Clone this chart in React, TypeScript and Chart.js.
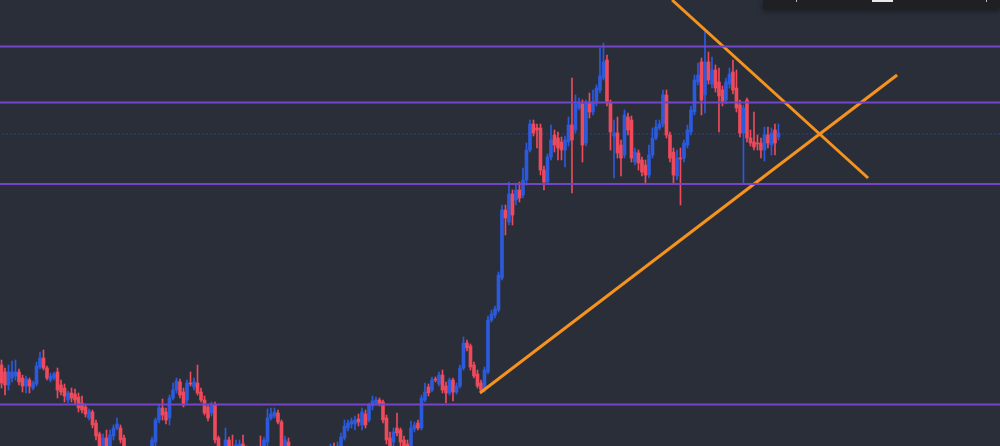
import React, { useEffect, useRef } from "react";
import { Chart, registerables } from "chart.js";

Chart.register(...registerables);

// OHLC price series (one candle per bar)
const opens = [
  135,128,115,122,124,128,122,114,120,112,
  116,133,142,132,120,122,128,115,112,100,
  107,106,103,97,93,82,88,77,66,53,
  62,52,64,72,72,62,50,44,38,42,
  36,40,45,40,58,80,92,88,82,102,
  110,118,108,100,117,113,117,108,100,93,
  87,95,62,48,45,60,52,48,50,56,
  50,42,48,40,52,48,58,82,84,87,
  78,52,58,45,35,42,35,28,34,40,
  34,38,44,38,44,50,45,52,62,72,
  76,76,81,75,86,80,94,97,100,98,
  82,62,58,72,70,60,56,54,71,77,
  72,100,113,110,121,116,125,114,107,120,
  108,114,132,157,154,135,126,117,110,128,
  180,185,190,222,290,278,306,300,310,305,
  320,350,376,372,372,330,318,343,365,362,
  358,350,358,375,370,392,396,357,398,388,
  397,410,422,440,397,364,367,355,345,383,
  380,338,347,340,335,325,345,362,372,376,
  405,365,348,324,342,342,355,368,388,418,
  438,405,438,416,430,418,410,400,416,428,
  412,395,367,400,362,358,357,357,350,365,
  355,370,363,
];
const highs = [
  140,132,135,139,140,131,125,124,122,119,
  138,148,150,134,127,128,132,120,116,109,
  112,111,107,104,96,91,90,80,68,66,
  70,70,75,82,75,65,52,48,45,46,
  44,50,49,63,82,95,101,92,105,117,
  122,121,112,120,128,122,135,112,104,96,
  98,98,64,52,72,63,65,60,60,65,
  54,52,52,54,64,63,91,92,92,90,
  80,64,62,50,46,46,40,38,44,45,
  42,48,50,50,56,57,58,67,80,80,
  82,84,86,92,90,97,104,103,102,100,
  85,68,72,87,72,64,60,79,78,80,
  105,117,116,123,123,128,130,118,122,122,
  117,135,163,160,156,138,130,120,133,184,
  190,194,228,295,295,318,310,317,318,332,
  357,380,380,376,376,334,346,375,370,368,
  363,364,383,422,405,402,400,400,407,410,
  415,452,457,445,400,380,383,360,390,387,
  384,352,350,343,340,355,372,380,380,410,
  410,368,352,350,352,360,375,394,425,437,
  442,468,448,443,435,432,414,422,432,440,
  430,400,395,402,370,388,365,362,373,373,
  372,376,376,
];
const lows = [
  112,105,110,118,120,115,108,107,107,110,
  114,131,130,120,118,120,102,105,98,97,
  98,96,88,87,83,80,72,60,48,48,
  48,48,60,70,57,44,38,34,34,32,
  32,37,36,38,54,77,80,76,75,100,
  107,102,93,97,114,110,105,98,85,79,
  84,57,42,35,42,45,42,44,45,44,
  38,38,36,38,42,45,54,80,82,76,
  50,48,40,30,30,30,24,24,30,30,
  30,34,34,35,40,40,42,48,60,69,
  72,70,74,70,72,78,90,95,94,77,
  56,50,54,64,54,48,45,50,68,70,
  70,98,104,108,118,114,107,97,105,99,
  106,112,130,149,130,122,112,107,108,126,
  178,182,188,220,265,275,275,295,298,302,
  315,348,364,352,325,310,316,340,348,340,
  340,333,354,307,367,390,338,354,382,385,
  394,407,420,394,350,322,342,324,342,365,
  338,335,330,324,316,322,342,360,370,373,
  362,338,317,320,295,338,352,365,385,415,
  385,387,416,412,408,368,394,396,412,406,
  388,363,316,358,354,350,350,342,339,352,
  345,345,360,
];
const closes = [
  117,115,128,128,128,118,114,121,114,117,
  134,142,132,122,124,126,110,108,104,107,
  102,100,92,90,86,89,75,64,52,62,
  52,65,72,76,60,48,42,38,42,36,
  41,46,40,60,80,92,85,80,102,110,
  119,105,95,117,116,118,107,100,87,82,
  96,60,45,40,60,50,45,55,56,48,
  42,48,40,50,45,60,82,86,88,78,
  54,60,45,35,42,34,28,34,40,34,
  38,44,38,45,50,45,54,63,74,77,
  79,80,78,88,75,95,99,100,96,80,
  60,54,68,67,58,52,50,72,75,72,
  102,108,107,120,120,125,110,107,120,108,
  114,132,157,152,133,124,114,110,130,180,
  186,191,225,290,282,306,285,310,302,320,
  350,376,367,370,330,318,343,360,355,352,
  350,360,375,360,396,397,355,397,388,398,
  412,424,438,397,368,367,347,342,385,370,
  342,348,337,328,325,345,362,373,376,405,
  365,342,325,342,341,357,370,390,420,425,
  400,438,420,430,412,404,398,418,426,410,
  392,367,392,362,357,353,356,350,365,357,
  367,357,367,
];

// Horizontal support / resistance levels
const levels = [453.5, 397.5, 316, 95.5];
const lastPrice = 366;

// Trend lines: [startBar, startPrice, endBar, endPrice]
const risingTrend = [136.7, 107, 255.9, 425];
const fallingTrend = [191.6, 500, 247.6, 322];

const X_MIN = -0.43;
const X_MAX = 285.3;
const Y_MIN = 54;
const Y_MAX = 500;

const BG = "#2a2e39";
const UP = "#2b5bdc";
const DOWN = "#ee4a5b";
const LEVEL = "#7444c9";
const TREND = "#f5931e";

export default function App() {
  const ref = useRef<HTMLCanvasElement | null>(null);

  useEffect(() => {
    const canvas = ref.current;
    if (!canvas) return;
    const idx = opens.map((_, i) => i);
    const colors = idx.map((i) => (closes[i] >= opens[i] ? UP : DOWN));

    const levelSets = levels.map((v) => ({
      type: "line" as const,
      data: [
        { x: X_MIN - 5, y: v },
        { x: X_MAX + 5, y: v },
      ],
      borderColor: LEVEL,
      borderWidth: 2,
      pointRadius: 0,
      fill: false,
      order: 0,
    }));

    const chart = new Chart(canvas, {
      type: "bar",
      data: {
        datasets: [
          {
            type: "line",
            data: [
              { x: X_MIN - 5, y: lastPrice },
              { x: X_MAX + 5, y: lastPrice },
            ],
            borderColor: UP,
            borderWidth: 1,
            borderDash: [1, 3],
            pointRadius: 0,
            fill: false,
            order: 5,
          },
          {
            type: "bar",
            data: idx.map((i) => ({ x: i, y: [lows[i], highs[i]] })),
            backgroundColor: colors,
            barThickness: 1,
            grouped: false,
            borderWidth: 0,
            order: 3,
          },
          {
            type: "bar",
            data: idx.map((i) => ({ x: i, y: [opens[i], closes[i]] })),
            backgroundColor: colors,
            barThickness: 3,
            minBarLength: 1,
            grouped: false,
            borderWidth: 0,
            order: 2,
          },
          ...levelSets,
          {
            type: "line",
            data: [
              { x: risingTrend[0], y: risingTrend[1] },
              { x: risingTrend[2], y: risingTrend[3] },
            ],
            borderColor: TREND,
            borderWidth: 3,
            pointRadius: 0,
            fill: false,
            order: 0,
          },
          {
            type: "line",
            data: [
              { x: fallingTrend[0], y: fallingTrend[1] },
              { x: fallingTrend[2], y: fallingTrend[3] },
            ],
            borderColor: TREND,
            borderWidth: 3,
            pointRadius: 0,
            fill: false,
            order: 0,
          },
        ] as any,
      },
      options: {
        animation: false,
        responsive: false,
        devicePixelRatio: 1,
        layout: { padding: 0 },
        plugins: {
          legend: { display: false },
          tooltip: { enabled: false },
        },
        scales: {
          x: {
            type: "linear",
            min: X_MIN,
            max: X_MAX,
            display: false,
            offset: false,
          },
          y: {
            type: "linear",
            min: Y_MIN,
            max: Y_MAX,
            display: false,
          },
        },
      } as any,
    });
    return () => chart.destroy();
  }, []);

  return (
    <div
      style={{
        position: "fixed",
        left: 0,
        top: 0,
        width: 1000,
        height: 446,
        background: BG,
        overflow: "hidden",
      }}
    >
      <canvas ref={ref} width={1000} height={446} style={{ display: "block" }} />
      <div
        style={{
          position: "absolute",
          left: 763,
          top: 0,
          width: 237,
          height: 9,
          background: "#1f2024",
          boxShadow: "0 2px 6px rgba(0,0,0,0.45)",
        }}
      >
        <div style={{ position: "absolute", left: 33, top: 0, width: 1, height: 2, background: "#bbb" }} />
        <div style={{ position: "absolute", left: 109, top: 0, width: 21, height: 1.5, background: "#e8e8e8" }} />
        <div style={{ position: "absolute", left: 223, top: 0, width: 1, height: 2, background: "#bbb" }} />
      </div>
    </div>
  );
}
